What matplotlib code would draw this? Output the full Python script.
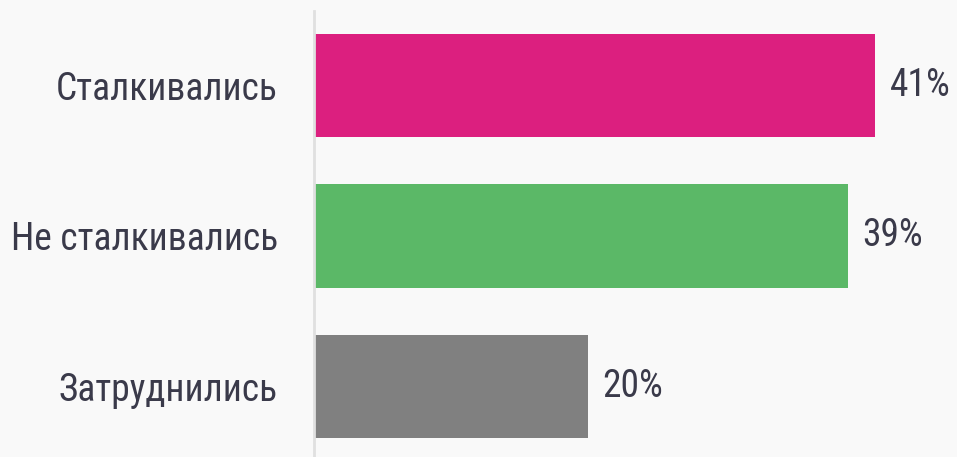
import matplotlib.pyplot as plt
from matplotlib import font_manager

categories = ['Сталкивались', 'Не сталкивались', 'Затруднились']
values = [41, 39, 20]
colors = ['#dc1f7f', '#5bb867', '#808080']

names = {f.name for f in font_manager.fontManager.ttflist}
family = ['Roboto Condensed'] if 'Roboto Condensed' in names else ['Roboto']
plt.rcParams['font.family'] = family + ['DejaVu Sans']

W, H = 957, 457
fig = plt.figure(figsize=(W / 100, H / 100), dpi=100, facecolor='#f9f9f9')
ax = fig.add_axes([314 / W, 0, 1 - 314 / W, 1 - 11 / H])
ax.set_facecolor('#f9f9f9')

y = range(len(categories))
ax.barh(y, values, height=0.687, color=colors)
ax.set_xlim(0, (W - 314) / 13.68)
ax.set_ylim(2.47, -0.495)

for i, v in enumerate(values):
    ax.text(v + 15 / 13.68, i, f'{v}%', va='center', ha='left',
            fontsize=27, color='#3a3a4a')

ax.set_yticks(list(y))
ax.set_yticklabels(categories, fontsize=27, color='#3a3a4a')
ax.tick_params(axis='y', length=0, pad=26)
ax.set_xticks([])
for s in ['top', 'right', 'bottom']:
    ax.spines[s].set_visible(False)
ax.spines['left'].set_color('#e0e0e0')
ax.spines['left'].set_linewidth(2)

fig.savefig('out.png', dpi=100, facecolor=fig.get_facecolor())
